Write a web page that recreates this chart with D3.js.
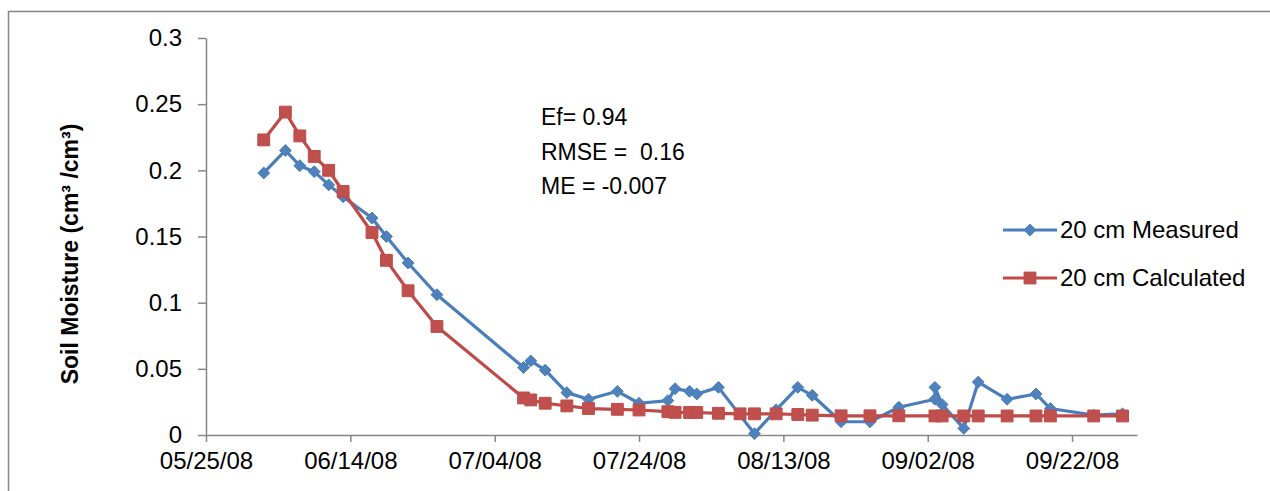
<!DOCTYPE html>
<html>
<head>
<meta charset="utf-8">
<script src="https://cdn.jsdelivr.net/npm/d3@7"></script>
<style>
  html, body { margin: 0; padding: 0; background: #fff; }
  svg { display: block; }
  text { font-family: "Liberation Sans", Arial, sans-serif; fill: #000; }
</style>
</head>
<body>
<svg id="chart" width="1270" height="491"></svg>
<script>
// ---- data ----
const measuredDates = ["06/02/08","06/05/08","06/07/08","06/09/08","06/11/08","06/13/08","06/17/08","06/19/08","06/22/08","06/26/08",
  "07/08/08","07/09/08","07/11/08","07/14/08","07/17/08","07/21/08","07/24/08","07/28/08","07/29/08","07/31/08","08/01/08","08/04/08",
  "08/09/08","08/12/08","08/15/08","08/17/08","08/21/08","08/25/08","08/29/08","09/03/08","09/03/08","09/04/08","09/07/08","09/09/08",
  "09/13/08","09/17/08","09/19/08","09/25/08","09/29/08"];
const measuredValues = [0.198,0.215,0.2035,0.199,0.189,0.180,0.164,0.150,0.130,0.106,
  0.051,0.056,0.049,0.032,0.027,0.033,0.024,0.026,0.035,0.033,0.031,0.036,
  0.001,0.019,0.036,0.030,0.010,0.010,0.021,0.027,0.036,0.023,0.005,0.040,
  0.027,0.031,0.020,0.015,0.016];

const calculatedDates = ["06/02/08","06/05/08","06/07/08","06/09/08","06/11/08","06/13/08","06/17/08","06/19/08","06/22/08","06/26/08",
  "07/08/08","07/09/08","07/11/08","07/14/08","07/17/08","07/21/08","07/24/08","07/28/08","07/29/08","07/31/08","08/01/08","08/04/08",
  "08/07/08","08/09/08","08/12/08","08/15/08","08/17/08","08/21/08","08/25/08","08/29/08","09/03/08","09/04/08","09/07/08","09/09/08",
  "09/13/08","09/17/08","09/19/08","09/25/08","09/29/08"];
const calculatedValues = [0.223,0.244,0.226,0.2105,0.200,0.184,0.153,0.132,0.109,0.082,
  0.028,0.0265,0.024,0.022,0.020,0.0194,0.0189,0.0176,0.0171,0.017,0.017,0.0164,
  0.016,0.016,0.016,0.0155,0.015,0.0145,0.0145,0.0145,0.0144,0.0144,0.0144,0.0144,
  0.0144,0.0144,0.0144,0.0144,0.0144];

const xTickLabels = ["05/25/08","06/14/08","07/04/08","07/24/08","08/13/08","09/02/08","09/22/08"];
const xDomainLabels = ["05/25/08","10/01/08"];
const yTickValues = [0, 0.05, 0.1, 0.15, 0.2, 0.25, 0.3];
const yTickLabels = ["0","0.05","0.1","0.15","0.2","0.25","0.3"];
const seriesNames = ["20 cm Measured","20 cm Calculated"];
const statsLines = ["Ef= 0.94","RMSE =  0.16","ME = -0.007"];
const yTitle = "Soil Moisture (cm\u00B3 /cm\u00B3)";

// ---- drawing ----
const parse = d3.timeParse("%m/%d/%y");
const svg = d3.select("#chart");
const AXIS = "#868686";
const BLUE = "#4A7EBB", BLUE_FILL = "#4F81BD";
const RED = "#BE4B48", RED_FILL = "#C0504D";

svg.append("rect").attr("width",1270).attr("height",491).attr("fill","#fff");
// outer chart border (extends beyond the visible window on right/bottom)
svg.append("rect").attr("x",8.5).attr("y",11.5).attr("width",1300).attr("height",600)
  .attr("fill","none").attr("stroke",AXIS).attr("stroke-width",1.5);

const x = d3.scaleTime().domain(xDomainLabels.map(parse)).range([206, 1137]);
const y = d3.scaleLinear().domain([0, 0.3]).range([435, 38]);

const yAxis = svg.append("g").attr("transform","translate(206,0)")
  .call(d3.axisLeft(y).tickValues(yTickValues).tickFormat((d,i)=>yTickLabels[i])
    .tickSize(8).tickSizeOuter(0).tickPadding(16));
yAxis.selectAll("text").style("font-size","24px").attr("fill","#000");

const xAxis = svg.append("g").attr("transform","translate(0,435)")
  .call(d3.axisBottom(x).tickValues(xTickLabels.map(parse)).tickFormat(d3.timeFormat("%m/%d/%y"))
    .tickSize(7).tickSizeOuter(0).tickPadding(10));
xAxis.selectAll("text").style("font-size","24px").attr("fill","#000");

svg.selectAll(".domain, .tick line").attr("stroke",AXIS).attr("stroke-width",1.5);

// y title
svg.append("text").attr("transform","translate(78,254) rotate(-90)")
  .attr("text-anchor","middle").style("font-size","23px").style("font-weight","bold")
  .text(yTitle);

// series
const measured = measuredDates.map((d,i)=>({date:parse(d), v:measuredValues[i]}));
const calculated = calculatedDates.map((d,i)=>({date:parse(d), v:calculatedValues[i]}));
const line = d3.line().x(d=>x(d.date)).y(d=>y(d.v));

function drawSeries(data, stroke, fill, symType, symSize){
  const g = svg.append("g");
  g.append("path").datum(data).attr("d",line).attr("fill","none")
    .attr("stroke",stroke).attr("stroke-width",3.2).attr("stroke-linejoin","round");
  g.selectAll("path.m").data(data).join("path").attr("class","m")
    .attr("transform",d=>`translate(${x(d.date)},${y(d.v)})`)
    .attr("d",d3.symbol().type(symType).size(symSize))
    .attr("fill",fill).attr("stroke",stroke).attr("stroke-width",1);
}
const diamond = {draw(ctx,size){const r=Math.sqrt(size/2);ctx.moveTo(0,-r);ctx.lineTo(r,0);ctx.lineTo(0,r);ctx.lineTo(-r,0);ctx.closePath();}};
drawSeries(measured, BLUE, BLUE_FILL, diamond, 70);
drawSeries(calculated, RED, RED_FILL, d3.symbolSquare, 140);

// stats annotation
svg.append("g").selectAll("text").data(statsLines).join("text")
  .attr("x",541).attr("y",(d,i)=>125+i*34.5).style("font-size","23px")
  .style("white-space","pre").attr("xml:space","preserve").text(d=>d);

// legend
const leg = svg.append("g");
const legendY = [230, 278];
[[BLUE,BLUE_FILL,diamond,70],[RED,RED_FILL,d3.symbolSquare,140]].forEach((s,i)=>{
  leg.append("line").attr("x1",1003).attr("x2",1057).attr("y1",legendY[i]).attr("y2",legendY[i])
    .attr("stroke",s[0]).attr("stroke-width",3.2);
  leg.append("path").attr("transform",`translate(1030,${legendY[i]})`)
    .attr("d",d3.symbol().type(s[2]).size(s[3])).attr("fill",s[1]).attr("stroke",s[0]);
  leg.append("text").attr("x",1060).attr("y",legendY[i]).attr("dy","0.35em")
    .style("font-size","24px").text(seriesNames[i]);
});
</script>
</body>
</html>
